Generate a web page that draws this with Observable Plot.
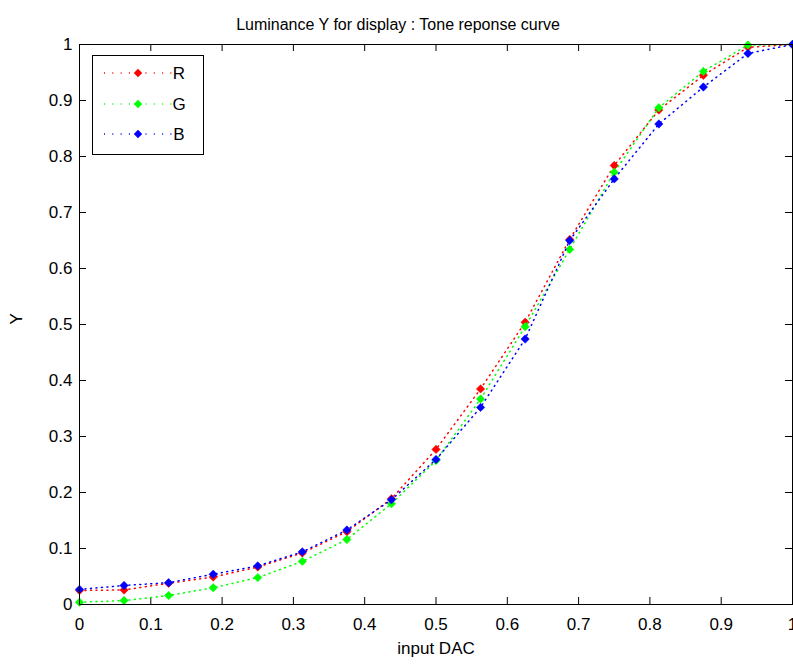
<!DOCTYPE html>
<html><head><meta charset="utf-8">
<script src="https://cdn.jsdelivr.net/npm/d3@7"></script>
<script src="https://cdn.jsdelivr.net/npm/@observablehq/plot@0.6"></script>
<style>body{margin:0;background:#fff;} svg{display:block}</style>
</head><body><div id="chart"></div>
<script>
const dac = [0, 0.0625, 0.125, 0.1875, 0.25, 0.3125, 0.375, 0.4375, 0.5, 0.5625, 0.625, 0.6875, 0.75, 0.8125, 0.875, 0.9375, 1];
const seriesNames = ["R", "G", "B"];
const seriesColors = ["#ff0000", "#00ff00", "#0000ff"];
const valuesR = [0.025, 0.026, 0.038, 0.049, 0.067, 0.092, 0.130, 0.189, 0.277, 0.385, 0.504, 0.652, 0.784, 0.883, 0.945, 0.995, 1.0];
const valuesG = [0.004, 0.007, 0.016, 0.030, 0.048, 0.077, 0.116, 0.180, 0.257, 0.367, 0.496, 0.634, 0.772, 0.887, 0.952, 0.999, 1.0];
const valuesB = [0.027, 0.034, 0.039, 0.054, 0.069, 0.094, 0.133, 0.187, 0.259, 0.352, 0.474, 0.650, 0.760, 0.858, 0.924, 0.984, 1.0];
const xTicks = [0, 0.1, 0.2, 0.3, 0.4, 0.5, 0.6, 0.7, 0.8, 0.9, 1];
const yTicks = [0, 0.1, 0.2, 0.3, 0.4, 0.5, 0.6, 0.7, 0.8, 0.9, 1];
const xTickLabels = ["0", "0.1", "0.2", "0.3", "0.4", "0.5", "0.6", "0.7", "0.8", "0.9", "1"];
const yTickLabels = ["0", "0.1", "0.2", "0.3", "0.4", "0.5", "0.6", "0.7", "0.8", "0.9", "1"];
const titleText = "Luminance Y for display : Tone reponse curve";
const xLabel = "input DAC";
const yLabel = "Y";

const W = 793, H = 664, mL = 79, mR = 1, mT = 44, mB = 60;
const pw = W - mL - mR, ph = H - mT - mB;
const font = "'Liberation Sans', Arial, sans-serif";
const fs = 17;
const tickLen = 7;

const series = [valuesR, valuesG, valuesB];
const rows = seriesNames.map((name, i) => dac.map((x, j) => ({x, y: series[i][j], name})));

const marks = [];
// axis ticks (inward, on all four sides)
marks.push(Plot.ruleX(xTicks, {insetTop: ph - tickLen, stroke: "black"}));
marks.push(Plot.ruleX(xTicks, {insetBottom: ph - tickLen, stroke: "black"}));
marks.push(Plot.ruleY(yTicks, {insetRight: pw - tickLen, stroke: "black"}));
marks.push(Plot.ruleY(yTicks, {insetLeft: pw - tickLen, stroke: "black"}));
marks.push(Plot.axisX(xTicks, {tickSize: 0, tickPadding: 13, tickFormat: (d, i) => xTickLabels[i], fontSize: fs, label: null}));
marks.push(Plot.axisY(yTicks, {tickSize: 0, tickPadding: 7, tickFormat: (d, i) => yTickLabels[i], fontSize: fs, label: null}));
// data
rows.forEach((data, i) => {
  marks.push(Plot.line(data, {x: "x", y: "y", stroke: seriesColors[i], strokeWidth: 1.5, strokeDasharray: "1,4.5"}));
  marks.push(Plot.dot(data, {x: "x", y: "y", symbol: "diamond2", r: 3.8, fill: seriesColors[i], stroke: seriesColors[i], strokeWidth: 0.5}));
});
marks.push(Plot.frame({stroke: "black"}));
marks.push(Plot.text([titleText], {frameAnchor: "top", dy: -26, dx: -38, fontSize: 16, fill: "black"}));
marks.push(Plot.text([xLabel], {frameAnchor: "bottom", dy: 49, fontSize: fs, fill: "black"}));
marks.push(Plot.text([yLabel], {frameAnchor: "left", dx: -63, rotate: -90, fontSize: fs, fill: "black"}));

const chart = Plot.plot({
  width: W, height: H,
  marginLeft: mL, marginRight: mR, marginTop: mT, marginBottom: mB,
  x: {domain: [0, 1]},
  y: {domain: [0, 1]},
  style: {fontFamily: font, fontSize: fs + "px", color: "black", background: "white", overflow: "visible"},
  marks
});
document.getElementById("chart").appendChild(chart);

// legend box (MATLAB style)
const svg = d3.select(chart);
const lg = svg.append("g").attr("font-family", font).attr("font-size", fs);
lg.append("rect").attr("x", 92.5).attr("y", 55.5).attr("width", 111).attr("height", 99)
  .attr("fill", "white").attr("stroke", "black");
const rowY = [73, 104, 134];
seriesNames.forEach((name, i) => {
  lg.append("line").attr("x1", 104).attr("x2", 172).attr("y1", rowY[i]).attr("y2", rowY[i])
    .attr("stroke", seriesColors[i]).attr("stroke-width", 1.5).attr("stroke-dasharray", "1,7.3");
  lg.append("path").attr("d", d3.symbol(d3.symbolDiamond2, Math.PI * 3.8 * 3.8)())
    .attr("transform", `translate(138,${rowY[i]})`).attr("fill", seriesColors[i]);
  lg.append("text").attr("x", 179).attr("y", rowY[i]).attr("dy", "0.35em").attr("fill", "black").text(name);
});
</script>
</body></html>
